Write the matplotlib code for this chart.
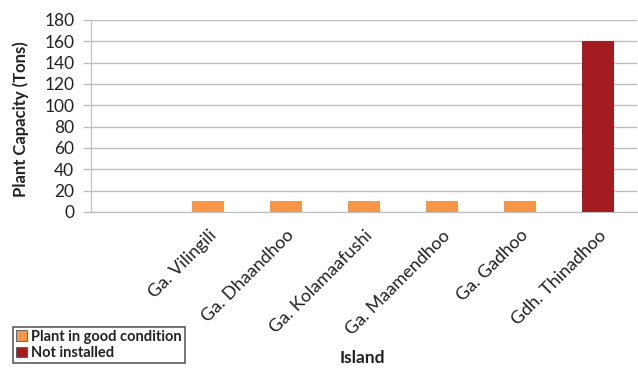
import matplotlib

matplotlib.use("Agg")
import matplotlib.pyplot as plt
import numpy as np

islands = ["", "Ga. Vilingili", "Ga. Dhaandhoo", "Ga. Kolamaafushi",
           "Ga. Maamendhoo", "Ga. Gadhoo", "Gdh. Thinadhoo"]
good_condition = [0, 10, 10, 10, 10, 10, 0]
not_installed = [0, 0, 0, 0, 0, 0, 160]
y_ticks = [0, 20, 40, 60, 80, 100, 120, 140, 160, 180]

ORANGE = "#F79646"
RED = "#A41B20"
GRID = "#BDBDBD"
INK = "#222222"

plt.rcParams["font.family"] = ["Lato", "DejaVu Sans"]

fig = plt.figure(figsize=(6.38, 3.68), dpi=100)
ax = fig.add_axes([91 / 638, 1 - 212 / 368, (637 - 91) / 638, (212 - 20) / 368])

x = np.arange(len(islands))
ax.bar(x, good_condition, width=0.4, color=ORANGE, label="Plant in good condition", zorder=3)
ax.bar(x, not_installed, width=0.4, color=RED, label="Not installed", zorder=3)

ax.set_xlim(-0.5, len(islands) - 0.5)
ax.set_ylim(0, 180)
ax.set_yticks(y_ticks)
ax.yaxis.grid(True, color=GRID, lw=1.0)
ax.set_axisbelow(True)
for s in ("right", "top"):
    ax.spines[s].set_visible(False)
ax.spines["bottom"].set_color(GRID)
ax.spines["left"].set_color(GRID)
ax.tick_params(axis="y", length=6, width=1.0, color=GRID, labelsize=12.5,
               labelcolor=INK, pad=6)
ax.tick_params(axis="x", length=0, pad=11)

ax.set_xticks(x)
ax.set_xticklabels(islands, rotation=45, ha="right", va="top",
                   rotation_mode="anchor", fontsize=13, color=INK)

ax.set_ylabel("Plant Capacity (Tons)", fontsize=12, fontweight="bold", color=INK)
ax.yaxis.set_label_coords(-62 / 546, (212 - 119) / 192)
fig.text(362 / 638, 1 - 358 / 368, "Island", fontsize=12.5, fontweight="bold",
         color=INK, ha="center", va="center")

leg = fig.legend(loc="lower left", bbox_to_anchor=(13 / 638, 5 / 368), fontsize=10.5,
                 frameon=True, fancybox=False, handlelength=0.75, handleheight=0.75,
                 handletextpad=0.3, borderpad=0.2, labelspacing=0.15, borderaxespad=0)
leg.get_frame().set_edgecolor("#333333")
leg.get_frame().set_linewidth(1.2)
for t in leg.get_texts():
    t.set_fontweight("bold")
    t.set_color(INK)
for h in leg.legend_handles:
    h.set_edgecolor("#555555")
    h.set_linewidth(0.6)

fig.savefig("out.png", dpi=100, facecolor="white")
